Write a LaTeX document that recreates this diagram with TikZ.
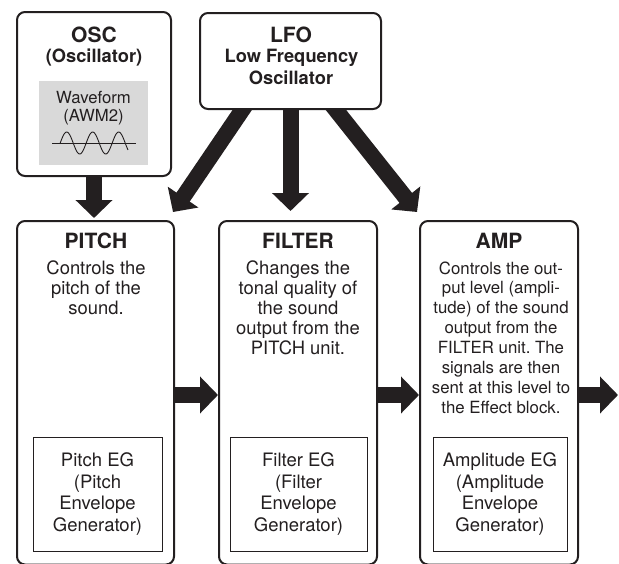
\documentclass[tikz,border=0pt]{standalone}
\usepackage{fontspec}
\setmainfont{TeX Gyre Heros}
\usetikzlibrary{arrows.meta,calc,backgrounds}
\definecolor{ink}{HTML}{231F20}
\definecolor{panel}{HTML}{D9D9D9}
\frenchspacing
\begin{document}
\begin{tikzpicture}[x=1pt,y=-1pt,
  unitbox/.style={draw=ink, fill=white, line width=2pt, rounded corners=8pt, inner sep=0pt},
  egbox/.style={draw=ink, fill=white, line width=0.9pt, inner sep=0pt, align=center, text=ink,
    font=\fontsize{18.5}{21.7}\selectfont},
  ttl/.style={font=\bfseries\fontsize{21}{24}\selectfont, text=ink, inner sep=0pt, anchor=base},
  subttl/.style={font=\bfseries\fontsize{18.3}{22}\selectfont, text=ink, inner sep=0pt, anchor=base},
  body/.style={font=\fontsize{18.4}{20}\selectfont, text=ink, inner sep=0pt, anchor=base, align=center},
  smallbody/.style={font=\fontsize{16.8}{19.9}\selectfont, text=ink, inner sep=0pt, anchor=base, align=center},
  wavetxt/.style={font=\fontsize{16.7}{19}\selectfont, text=ink, inner sep=0pt, anchor=base},
  bigarrow/.style={draw=ink, line width=16pt, -{Triangle[length=18pt,width=36pt]}},
]
\useasboundingbox (0,0) rectangle (619,563);

% unit boxes
\node[unitbox, minimum width=154pt, minimum height=164pt] (osc) at (94,94) {};
\node[unitbox, minimum width=181pt, minimum height=96pt] (lfo) at (290.5,61) {};
\node[unitbox, minimum width=157pt, minimum height=343.5pt] (pitch) at (95.5,392.75) {};
\node[unitbox, minimum width=158pt, minimum height=343.5pt] (filter) at (298,392.75) {};
\node[unitbox, minimum width=158pt, minimum height=343.5pt] (amp) at (499,392.75) {};

% OSC content
\node[ttl] (osct) at (94,42) {OSC};
\node[subttl] (oscs) at (94,62) {(Oscillator)};
\node[fill=panel, minimum width=109pt, minimum height=84pt, inner sep=0pt] (panel) at (93.5,123) {};
\node[wavetxt] (wf1) at (93.5,103) {Waveform};
\node[wavetxt] (wf2) at (93.5,121) {(AWM2)};
\draw[ink, line width=0.9pt] (52,143) -- (136,143);
\draw[ink, line width=0.9pt] plot[domain=60:128, samples=90, smooth] (\x,{143-11*cos(13.846*(\x-66.7))});

% LFO content
\node[ttl] (lfot) at (291,42) {LFO};
\node[subttl] (lfos1) at (291.5,62) {Low Frequency};
\node[subttl] (lfos2) at (291,84) {Oscillator};

% titles
\node[ttl] (pitcht) at (96,248) {PITCH};
\node[ttl] (filtert) at (298,248) {FILTER};
\node[ttl] (ampt) at (499,248) {AMP};

% body texts (base anchor = baseline of last line)
\node[body] (pitchb) at (96,314) {Controls the\\pitch of the\\sound.};
\node[body] (filterb) at (298,354) {Changes the\\tonal quality of\\the sound\\output from the\\PITCH unit.};
\node[smallbody] (ampb) at (501,413.3) {Controls the out-\\put level (ampli-\\tude) of the sound\\output from the\\FILTER unit. The\\signals are then\\sent at this level to\\the Effect block.};

% EG boxes
\node[egbox, minimum width=129pt, minimum height=114pt] (pitcheg) at (97.5,494) {Pitch EG\\(Pitch\\Envelope\\Generator)};
\node[egbox, minimum width=137pt, minimum height=114pt] (filtereg) at (298.5,494) {Filter EG\\(Filter\\Envelope\\Generator)};
\node[egbox, minimum width=134pt, minimum height=114pt] (ampeg) at (500,494) {Amplitude EG\\(Amplitude\\Envelope\\Generator)};

\coordinate (hy) at (0,395);
\coordinate (outtip) at (618,395);

\begin{pgfonlayer}{background}
\draw[bigarrow, shorten >=2pt] (osc.south) -- (osc.south |- pitch.north);
\draw[bigarrow] (lfo.south) -- ($(lfo.south |- filter.north)+(0,-9)$);
\draw[bigarrow] ($(lfo.south)+(-41.5,-10)$) -- ($(pitch.north east)+(-2,-8)$);
\draw[bigarrow] ($(lfo.south)+(37.5,-10)$) -- ($(amp.north west)+(-2,-8)$);
\draw[bigarrow] (pitch.east |- hy) -- (filter.west |- hy);
\draw[bigarrow] (filter.east |- hy) -- (amp.west |- hy);
\draw[bigarrow] (amp.east |- hy) -- (outtip);
\end{pgfonlayer}
\end{tikzpicture}
\end{document}
